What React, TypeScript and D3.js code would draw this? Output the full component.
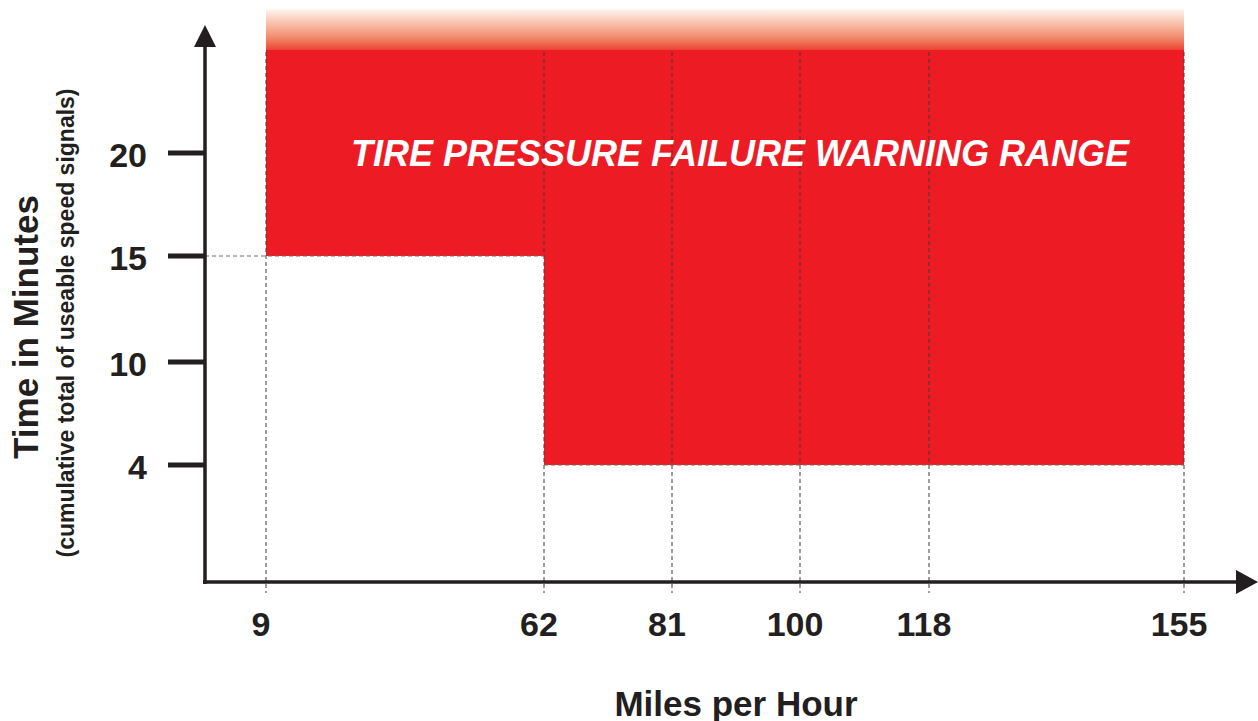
import * as d3 from 'd3';
import React from 'react';

// speeds (mph) marked on the x axis
const speeds = [9, 62, 81, 100, 118, 155];
// minutes marked on the y axis
const minutes = [4, 10, 15, 20];
// warning range: from speed, to speed, minimum minutes
const rangeFrom = [9, 62];
const rangeTo = [62, 155];
const rangeMin = [15, 4];
const rangeTop = 25; // solid red ends here
const fadeTop = 27; // faded band ends here

const title = 'TIRE PRESSURE FAILURE WARNING RANGE';
const xTitle = 'Miles per Hour';
const yTitle = 'Time in Minutes';
const ySub = '(cumulative total of useable speed signals)';

const W = 1258;
const H = 721;
const axisX = 205;
const axisY = 582;
const ink = '#231F20';
const red = '#ED1C24';
const font = '"Liberation Sans", Arial, Helvetica, sans-serif';

export default function App() {
  // the original chart is not linear, so use piecewise scales
  const x = d3.scaleLinear().domain(speeds).range([266, 544, 672, 800, 929, 1184]);
  const y = d3.scaleLinear().domain(minutes).range([465, 362, 256, 153]);

  // step outline of the warning area
  const pts: [number, number][] = [];
  pts.push([x(rangeFrom[0]), y(rangeTop)]);
  pts.push([x(rangeTo[rangeTo.length - 1]), y(rangeTop)]);
  for (let i = rangeMin.length - 1; i >= 0; i--) {
    pts.push([x(rangeTo[i]), y(rangeMin[i])]);
    pts.push([x(rangeFrom[i]), y(rangeMin[i])]);
  }
  const area = d3.line()(pts) + 'Z';

  const left = x(rangeFrom[0]);
  const right = x(rangeTo[rangeTo.length - 1]);

  return (
    <svg width={W} height={H} style={{ position: 'absolute', left: 0, top: 0, background: '#fff' }}>
      <defs>
        <linearGradient id="fade" x1="0" y1="0" x2="0" y2="1">
          <stop offset="0" stopColor="#FFF6F1" />
          <stop offset="0.35" stopColor="#F8C2AC" />
          <stop offset="0.7" stopColor="#F28A6C" />
          <stop offset="1" stopColor="#EC4431" />
        </linearGradient>
      </defs>

      <rect x={left} y={y(fadeTop)} width={right - left} height={y(rangeTop) - y(fadeTop)} fill="url(#fade)" />
      <path d={area} fill={red} />

      {/* dashed guides */}
      {speeds.map((s) => (
        <line key={'v' + s} x1={x(s)} x2={x(s)} y1={y(rangeTop) + 2} y2={axisY + 11}
          stroke="#3a3a3a" strokeWidth={1} strokeDasharray="4,3" />
      ))}
      {rangeMin.map((m, i) => (
        <line key={'h' + i} x1={i === 0 ? axisX : x(rangeFrom[i])} x2={x(rangeTo[i])} y1={y(m)} y2={y(m)}
          stroke="#6d6d6d" strokeWidth={1} strokeDasharray="4,3" />
      ))}

      {/* axes */}
      <line x1={axisX} x2={axisX} y1={44} y2={axisY + 2} stroke={ink} strokeWidth={3.5} />
      <path d={`M${axisX},25L${axisX - 11},47L${axisX + 11},47Z`} fill={ink} />
      <line x1={axisX - 2} x2={1240} y1={axisY} y2={axisY} stroke={ink} strokeWidth={3.5} />
      <path d={`M1258,${axisY}L1236,${axisY - 12}L1236,${axisY + 12}Z`} fill={ink} />

      {minutes.map((m) => (
        <g key={'yt' + m}>
          <line x1={168} x2={axisX} y1={y(m)} y2={y(m)} stroke={ink} strokeWidth={5} />
          <text x={147} y={y(m)} dy="0.4em" textAnchor="end" fontFamily={font} fontWeight="bold"
            fontSize={34} fill={ink}>{m}</text>
        </g>
      ))}
      {speeds.map((s) => (
        <text key={'xt' + s} x={x(s) - 5} y={624} dy="0.36em" textAnchor="middle" fontFamily={font}
          fontWeight="bold" fontSize={34} fill={ink}>{s}</text>
      ))}

      <text x={740} y={166} textAnchor="middle" fontFamily={font} fontWeight="bold" fontStyle="italic"
        fontSize={36} fill="#fff">{title}</text>

      <text x={736} y={716} textAnchor="middle" fontFamily={font} fontWeight="bold" fontSize={35}
        fill={ink}>{xTitle}</text>
      <text transform="translate(38,327) rotate(-90)" textAnchor="middle" fontFamily={font}
        fontWeight="bold" fontSize={35} fill={ink}>{yTitle}</text>
      <text transform="translate(74,323) rotate(-90)" textAnchor="middle" fontFamily={font}
        fontWeight="bold" fontSize={23} fill={ink}>{ySub}</text>
    </svg>
  );
}
